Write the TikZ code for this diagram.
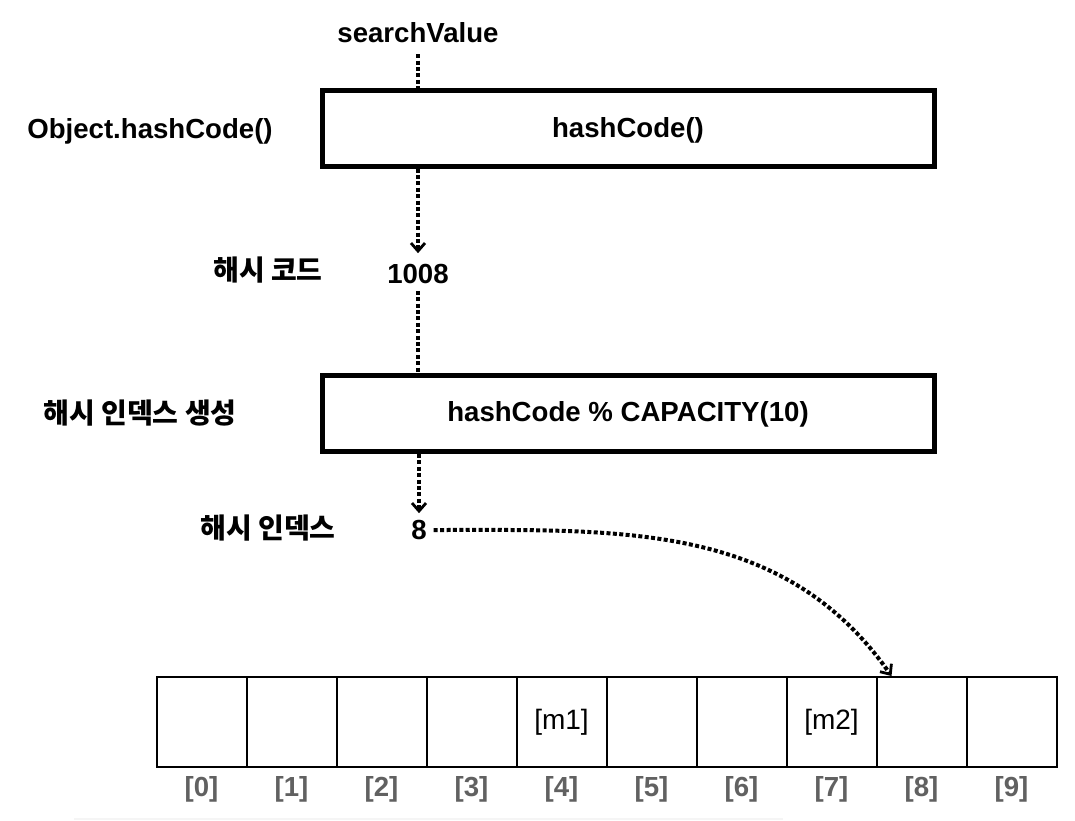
\documentclass[tikz,border=0pt]{standalone}
\usepackage{fontspec}
\setmainfont{Liberation Sans}
\newfontfamily\kofont{Noto Sans CJK KR}
\usepackage{tikz}
\usetikzlibrary{arrows.meta, matrix, positioning}

\begin{document}
\begin{tikzpicture}[x=0.5pt, y=-0.5pt,
      lbl/.style={font=\fontsize{13.8}{16}\selectfont\bfseries},
      kolbl/.style={font=\fontsize{14}{16}\selectfont\kofont\bfseries},
      box/.style={draw, line width=2.5pt, minimum width=306pt, minimum height=38pt},
      dots/.style={line width=2pt, dash pattern=on 2pt off 1.2pt},
      tip/.style={-{Straight Barb[length=4pt, width=7pt, line width=1.4pt]}},
      cell/.style={draw, line width=1pt, minimum width=45pt, minimum height=45pt,
        inner sep=0pt, anchor=center, font=\fontsize{14}{16}\selectfont},
      idxlbl/.style={font=\fontsize{13.8}{16}\selectfont\bfseries, text=black!62}]
      \useasboundingbox (0,0) rectangle (1075,820);
      % hash code
      \node[lbl] (sv) at (418,33) {searchValue};
      \node[box] (hc) at (628,128) {};
      \node[lbl] (hctxt) at (628,130) {hashCode()};
      \node[lbl] (obj) at (150,131) {Object.hashCode()};
      \node[lbl] (code) at (418,274) {1008};
      \node[kolbl] (codelbl) at (268,270) {해시 코드};
      % hash index
      \node[box] (mod) at (628,413.5) {};
      \node[lbl] (modtxt) at (628,414) {hashCode \% CAPACITY(10)};
      \node[kolbl] (modlbl) at (140,413) {해시 인덱스 생성};
      \node[lbl] (idx) at (419,530) {8};
      \node[kolbl] (idxlbl) at (268,528) {해시 인덱스};
      % array
      \matrix (A)[matrix of nodes, nodes in empty cells,
      nodes={cell},
      column sep=-1pt
      ] at (606.5,722) {
         & & & & {[m1]} & & & {[m2]} & & \\
      };
      \foreach \i [count=\c] in {0,...,9}
        \node[idxlbl] (L\i) at ([yshift=-10.5pt]A-1-\c.south) {[\i]};
      \coordinate (tgt) at ([xshift=8pt]A-1-9.north west);
      % \draw[dots] (code.east) -- (mod.north east);
      \draw[dots, shorten <=2pt] (sv.south) -- (hc.north -| sv);
      \draw[dots, tip] (hc.south -| code) -- ([yshift=2pt]code.north);
      \draw[dots] (code.south) -- (mod.north -| code);
      \draw[dots, tip] (mod.south -| idx) -- (idx.north);
      \draw[dots, tip] (idx.east) to[out=0, in=125] (tgt);
      \draw[black!4, line width=1pt] (74,819) -- (783,819);
    \end{tikzpicture}
\end{document}
